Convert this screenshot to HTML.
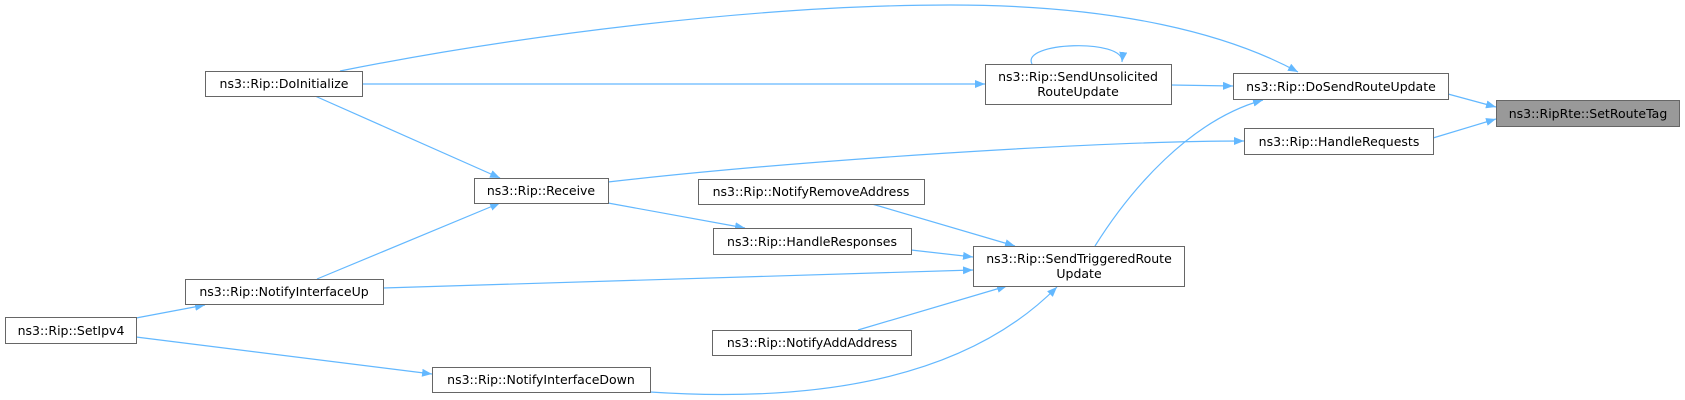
<!DOCTYPE html>
<html><head><meta charset="utf-8"><style>
html,body{margin:0;padding:0;background:#fff;width:1685px;height:400px;overflow:hidden}
text{font-family:"DejaVu Sans","Liberation Sans",sans-serif;font-size:12.5px;fill:#000}
</style></head><body>
<svg width="1685" height="400" xmlns="http://www.w3.org/2000/svg">
<defs><marker id="a" markerWidth="10" markerHeight="8" refX="10" refY="4" orient="auto" markerUnits="userSpaceOnUse"><path d="M0,0 L10,4 L0,8 z" fill="#63b8ff"/></marker></defs>
<g fill="none" stroke="#63b8ff" stroke-width="1.2" marker-end="url(#a)">
<path d="M1448,94 L1496,107"/>
<path d="M1433,138 L1496,119"/>
<path d="M1171,85 L1233,86"/>
<path d="M340,71 C520,35 760,5 950,5 C1120,5 1230,35 1298,72"/>
<path d="M1095,246 C1130,190 1190,120 1263,100"/>
<path d="M362,84 L985,84"/>
<path d="M1032,64 C1020,42 1125,38 1122,62"/>
<path d="M315,96 L500,178"/>
<path d="M608,182 C800,160 1100,141 1244,141"/>
<path d="M317,279 L500,203"/>
<path d="M608,203 L745,228"/>
<path d="M872,204 L1015,246"/>
<path d="M911,250 L973,257"/>
<path d="M383,288 L973,270"/>
<path d="M858,330 L1007,286"/>
<path d="M650,392 C800,402 960,385 1057,287"/>
<path d="M136,318 L205,305"/>
<path d="M136,337 L432,374"/>
</g>
<g stroke="#666" stroke-width="1" fill="#fff">
<rect x="1496.5" y="100.5" width="183" height="26" fill="#999"/>
<rect x="1233.5" y="73.5" width="215" height="26"/>
<rect x="1244.5" y="128.5" width="189" height="26"/>
<rect x="985.5" y="64.5" width="186" height="40"/>
<rect x="205.5" y="71.5" width="157" height="25"/>
<rect x="474.5" y="178.5" width="134" height="25"/>
<rect x="698.5" y="179.5" width="226" height="25"/>
<rect x="713.5" y="228.5" width="198" height="26"/>
<rect x="973.5" y="246.5" width="211" height="40"/>
<rect x="185.5" y="279.5" width="198" height="25"/>
<rect x="5.5" y="317.5" width="131" height="26"/>
<rect x="712.5" y="330.5" width="199" height="25"/>
<rect x="432.5" y="367.5" width="218" height="25"/>
</g>
<g text-anchor="middle">
<text x="1588" y="118">ns3::RipRte::SetRouteTag</text>
<text x="1341" y="91">ns3::Rip::DoSendRouteUpdate</text>
<text x="1339" y="146">ns3::Rip::HandleRequests</text>
<text x="1078" y="81">ns3::Rip::SendUnsolicited</text>
<text x="1078" y="96">RouteUpdate</text>
<text x="284" y="88">ns3::Rip::DoInitialize</text>
<text x="541" y="195">ns3::Rip::Receive</text>
<text x="811" y="196">ns3::Rip::NotifyRemoveAddress</text>
<text x="812" y="246">ns3::Rip::HandleResponses</text>
<text x="1079" y="263">ns3::Rip::SendTriggeredRoute</text>
<text x="1079" y="278">Update</text>
<text x="284" y="296">ns3::Rip::NotifyInterfaceUp</text>
<text x="71" y="335">ns3::Rip::SetIpv4</text>
<text x="812" y="347">ns3::Rip::NotifyAddAddress</text>
<text x="541" y="384">ns3::Rip::NotifyInterfaceDown</text>
</g>
</svg>
</body></html>
